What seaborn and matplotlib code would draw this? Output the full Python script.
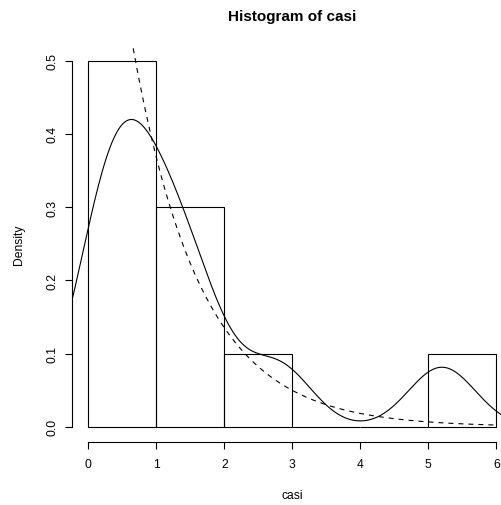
import numpy as np
import matplotlib
matplotlib.use("Agg")
import matplotlib.pyplot as plt
import matplotlib.transforms as mtransforms
import seaborn as sns

# --- Data ---
CASI = [0.1, 0.25, 0.45, 0.6, 0.8, 1.15, 1.35, 1.75, 2.8, 5.2]
BREAKS = [0, 1, 2, 3, 4, 5, 6]
X_TICKS = [0, 1, 2, 3, 4, 5, 6]
Y_TICKS = [0.0, 0.1, 0.2, 0.3, 0.4, 0.5]
Y_TICK_LABELS = ["0.0", "0.1", "0.2", "0.3", "0.4", "0.5"]
KDE_BANDWIDTH = 0.49  # absolute bandwidth of the solid density curve
EXP_RATE = 1.0        # rate of the dashed exponential density

# --- Style ---
sns.set_theme(style="white")
plt.rcParams["font.family"] = ["Liberation Sans", "DejaVu Sans"]
LW = 0.8
FS = 8.7

W, H = 502, 506
fig = plt.figure(figsize=(W / 100, H / 100), dpi=100)
# plot region in pixels: left 72, top 47, bottom 442.5, right runs past the image edge
ax = fig.add_axes([72 / W, 1 - 442.5 / H, (W - 72) / W, (442.5 - 47) / H])
ax.set_facecolor("white")

# histogram (density scale, open bars)
sns.histplot(x=CASI, bins=BREAKS, stat="density", fill=False,
             color="black", linewidth=LW, ax=ax)

# kernel density estimate
bw_factor = KDE_BANDWIDTH / np.std(CASI, ddof=1)
sns.kdeplot(x=CASI, bw_method=bw_factor, cut=4, gridsize=500,
            color="black", linewidth=LW, ax=ax)

# exponential density, dashed
xs = np.linspace(BREAKS[0], BREAKS[-1], 400)
sns.lineplot(x=xs, y=EXP_RATE * np.exp(-EXP_RATE * xs), color="black",
             linewidth=LW, linestyle="--", dashes=False, ax=ax)
ax.lines[-1].set_dashes((4.5, 4.5))

ax.set_xlim(-0.24, -0.24 + (W - 72) / 68.0)
ax.set_ylim(-0.02, 0.52)

# axes in R base-graphics fashion
for s in ["top", "right"]:
    ax.spines[s].set_visible(False)
for s in ["left", "bottom"]:
    ax.spines[s].set_color("black")
    ax.spines[s].set_linewidth(LW)
ax.spines["left"].set_bounds(Y_TICKS[0], Y_TICKS[-1])
ax.spines["bottom"].set_bounds(X_TICKS[0], X_TICKS[-1])

ax.set_xticks(X_TICKS)
ax.set_xticklabels([str(t) for t in X_TICKS])
ax.set_yticks(Y_TICKS)
ax.set_yticklabels(Y_TICK_LABELS, rotation=90, va="center")
ax.tick_params(axis="both", direction="out", length=5, width=LW,
               color="black", labelsize=FS, labelcolor="black",
               bottom=True, left=True)
ax.tick_params(axis="x", pad=7)
ax.tick_params(axis="y", pad=5)

# labels, centred on the full plot region (x = 3 in data units)
mid = (3.0 + 0.24) / (ax.get_xlim()[1] + 0.24)
ax.set_xlabel("casi", fontsize=FS, color="black", va="center")
ax.xaxis.set_label_coords(mid, -(496.5 - 442.5) / 395.5)
ax.set_ylabel("Density", fontsize=FS, color="black", va="center")
ax.yaxis.set_label_coords(-(72 - 19) / 430, 0.5)

trans = mtransforms.blended_transform_factory(ax.transData, ax.transAxes)
ax.text(3.0, (442.5 - 20.7) / 395.5, "Histogram of casi", transform=trans,
        ha="center", va="baseline", fontsize=11, fontweight="bold",
        color="black")

fig.savefig("out.png", dpi=100)
